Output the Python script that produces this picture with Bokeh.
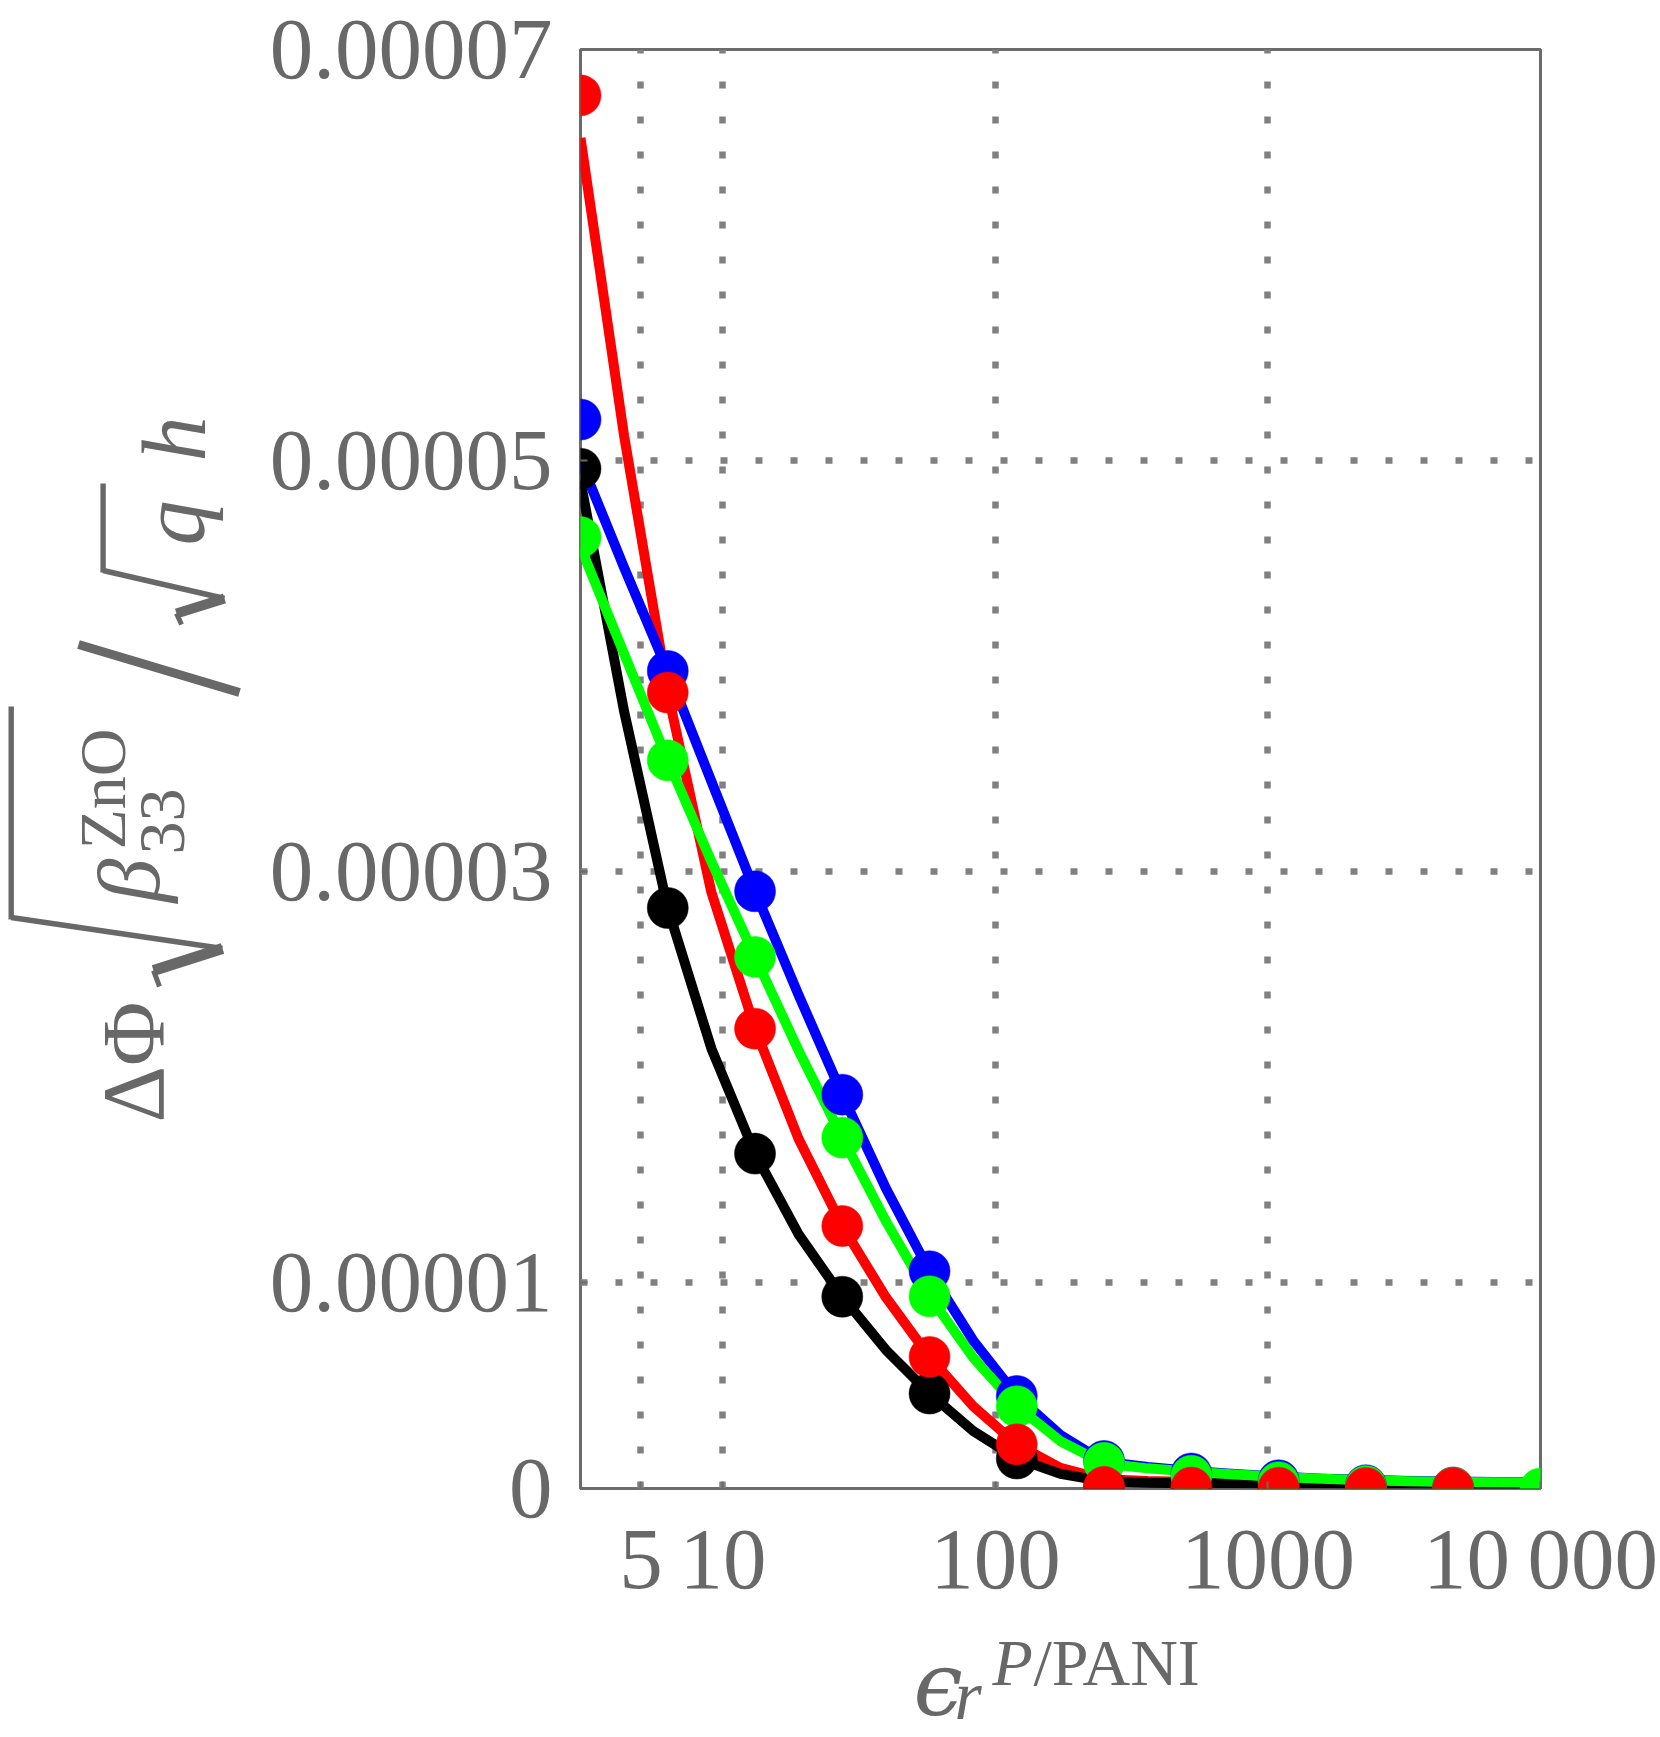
import math
from bokeh.plotting import figure
from bokeh.layouts import row, column
from bokeh.models import Range1d, FixedTicker
from bokeh.core.properties import value
from bokeh.embed import file_html
from bokeh.resources import INLINE

# Relative permittivity of the P/PANI layer at which the model was evaluated
eps_r = [3, 6.271, 13.11, 27.40, 57.28, 119.7, 250.3, 523.3, 1093.9, 2286.7, 4780, 10000]

# Computed potential difference, in units of 1e-5
blue_pts = [5.20, 3.977, 2.905, 1.916, 1.057, 0.450, 0.134, 0.073, 0.040, 0.016, 0.005]
black_pts = [4.961, 2.824, 1.629, 0.933, 0.462, 0.146, 0.012, 0.004, 0.002, 0.001, 0.0]
green_pts = [4.628, 3.542, 2.586, 1.707, 0.935, 0.400, 0.125, 0.062, 0.031, 0.012, 0.004, 0.0]
red_pts = [6.777, 3.872, 2.237, 1.277, 0.640, 0.215, 0.008, 0.005, 0.004, 0.003, 0.002]

# Fitted curves on a finer permittivity grid (units of 1e-5)
eps_fit = [3, 4.337, 6.271, 9.067, 13.11, 18.95, 27.40, 39.62, 57.28, 82.83, 119.7, 173.1,
           250.3, 362.0, 523.3, 756.7, 1094, 1582, 2287, 3307, 4781, 6912, 10000]
blue_fit = [5.00, 4.48, 3.977, 3.44, 2.905, 2.40, 1.916, 1.46, 1.057, 0.72, 0.450, 0.26,
            0.13, 0.105, 0.085, 0.070, 0.058, 0.048, 0.042, 0.037, 0.034, 0.032, 0.030]
green_fit = [4.58, 4.06, 3.542, 3.05, 2.586, 2.13, 1.707, 1.30, 0.935, 0.637, 0.400, 0.23,
             0.122, 0.098, 0.082, 0.068, 0.056, 0.047, 0.040, 0.035, 0.032, 0.030, 0.028]
red_fit = [6.57, 5.12, 3.872, 2.90, 2.237, 1.70, 1.277, 0.93, 0.640, 0.40, 0.215, 0.10,
           0.045, 0.036, 0.032, 0.031, 0.030, 0.029, 0.029, 0.028, 0.028, 0.027, 0.027]
black_fit = [4.90, 3.78, 2.824, 2.14, 1.629, 1.236, 0.933, 0.674, 0.462, 0.28, 0.146, 0.071,
             0.035, 0.028, 0.026, 0.025, 0.024, 0.024, 0.023, 0.023, 0.022, 0.022, 0.022]
UNIT = 1e-5

x_ticks = [5, 10, 100, 1000, 10000]
x_tick_labels = ["5", "10", "100", "1000", "10\u2009000"]
y_ticks = [0, 1e-5, 3e-5, 5e-5, 7e-5]
y_tick_labels = ["0", "0.00001", "0.00003", "0.00005", "0.00007"]

TEXT = "#686868"
FRAME = "#6b6b6b"
GRID = "#808080"
SERIF = "Liberation Serif"

W, H = 1660, 1737
LEFT_W = 260                 # strip holding the vertical title
MAIN_H = 1620                # height of the upper row; the horizontal title sits below it
FRAME_L, FRAME_R = 580, 1540
FRAME_T, FRAME_B = 49, 1488

# ---------------------------------------------------------------- main panel
p = figure(width=W - LEFT_W, height=MAIN_H, x_axis_type="log",
           x_range=Range1d(3, 10000), y_range=Range1d(0, 7e-5),
           output_backend="svg", toolbar_location=None,
           min_border_left=FRAME_L - LEFT_W, min_border_right=W - FRAME_R,
           min_border_top=FRAME_T, min_border_bottom=MAIN_H - FRAME_B)
p.background_fill_color = "white"
p.border_fill_color = "white"
p.outline_line_color = FRAME
p.outline_line_width = 3

for ax in (p.xaxis[0], p.yaxis[0]):
    ax.axis_line_color = None
    ax.major_tick_in = 7
    ax.major_tick_out = 0
    ax.major_tick_line_color = FRAME
    ax.major_tick_line_width = 2
    ax.minor_tick_line_color = None
    ax.major_label_text_font = SERIF
    ax.major_label_text_font_size = "87px"
    ax.major_label_text_color = TEXT

p.xaxis.ticker = FixedTicker(ticks=x_ticks)
p.xaxis.major_label_overrides = dict(zip(x_ticks, x_tick_labels))
p.xaxis.major_label_standoff = 21
p.yaxis.ticker = FixedTicker(ticks=y_ticks)
p.yaxis.major_label_overrides = dict(zip(y_ticks, y_tick_labels))
p.yaxis.major_label_standoff = 28

for g in (p.xgrid, p.ygrid):
    g.grid_line_color = GRID
    g.grid_line_width = 6.5
    g.grid_line_dash = "7 28"


def scaled(vals):
    return [v * UNIT for v in vals]


# fitted curves first, computed points on top
for vals, color in ((red_fit, "#ff0000"), (black_fit, "#000000"),
                    (blue_fit, "#0000ff"), (green_fit, "#00ff00")):
    p.line(eps_fit, scaled(vals), line_color=color, line_width=10, line_join="round")

for vals, color in ((blue_pts, "#0000ff"), (black_pts, "#000000"),
                    (green_pts, "#00ff00"), (red_pts, "#ff0000")):
    p.scatter(eps_r[:len(vals)], scaled(vals), size=41, fill_color=color,
              line_color=color, line_width=0.5)


# ------------------------------------------------------- title strips (pixel coords)
def strip(width, height, x0, y0, top=0, bottom=0):
    """A bare figure whose data coordinates are page pixels (y downwards)."""
    s = figure(width=width, height=height,
               x_range=Range1d(x0, x0 + width),
               y_range=Range1d(y0 + height - bottom, y0 + top),
               output_backend="svg", toolbar_location=None,
               x_axis_location=None, y_axis_location=None, title=None,
               min_border_left=0, min_border_right=0,
               min_border_top=top, min_border_bottom=bottom)
    s.outline_line_color = None
    s.grid.visible = False
    s.background_fill_color = "white"
    s.border_fill_color = "white"
    return s


BASE_SHIFT = 0.3   # baseline correction, in em


def put(s, txt, x, y, size, angle=0.0, style="normal", font=SERIF):
    if angle:
        x -= BASE_SHIFT * size
    else:
        y -= BASE_SHIFT * size
    s.text(x=[x], y=[y], text=[txt], angle=angle, text_font=value(font),
           text_font_size=value(f"{size}px"), text_font_style=value(style),
           text_color=TEXT, text_align="left", text_baseline="alphabetic")


def strokes(s, segs):
    xs, ys = [], []
    for x0, y0, x1, y1, w in segs:
        L = math.hypot(x1 - x0, y1 - y0)
        nx, ny = -(y1 - y0) / L * w / 2, (x1 - x0) / L * w / 2
        xs.append([x0 + nx, x1 + nx, x1 - nx, x0 - nx])
        ys.append([y0 + ny, y1 + ny, y1 - ny, y0 - ny])
    s.patches(xs, ys, fill_color=TEXT, line_color=None)


up = math.pi / 2

# vertical title:  ΔΦ √(β33^ZnO) / √q h   (frame kept level with the main panel's)
left = strip(LEFT_W, MAIN_H, 0, 0, top=FRAME_T, bottom=MAIN_H - FRAME_B)
put(left, "ΔΦ", 159, 1122, 88, up)
strokes(left, [(10.7, 706, 10.7, 919, 5.4), (10.7, 917, 222, 948, 5.4),
               (222, 948, 153, 970, 11), (153, 970, 159, 986, 5)])
put(left, "β", 155, 902, 88, up, "italic")
put(left, "ZnO", 122, 849, 66, up)
put(left, "33", 182, 854, 66, up)
strokes(left, [(239, 692, 78, 644, 9)])                       # solidus
strokes(left, [(102.6, 483, 102.6, 572, 5.4), (102.6, 570, 224, 598, 5.4),
               (224, 598, 176, 613, 10), (176, 613, 181, 624, 5)])
put(left, "q", 200, 545, 90, up, "italic")
put(left, "h", 201, 461, 90, up, "italic")

# horizontal title:  ϵ_r ^ P/PANI
bottom = strip(W, H - MAIN_H, 0, MAIN_H)
put(bottom, "ϵ", 913, 1710, 88, 0.0, "italic", "DejaVu Serif")
put(bottom, "r", 954, 1716, 70, 0.0, "italic")
put(bottom, "P", 992, 1682, 66, 0.0, "italic")
put(bottom, "/PANI", 1033, 1682, 66)

layout = column(row(left, p, spacing=0), bottom, spacing=0)
open("out.html", "w").write(file_html(layout, INLINE))
